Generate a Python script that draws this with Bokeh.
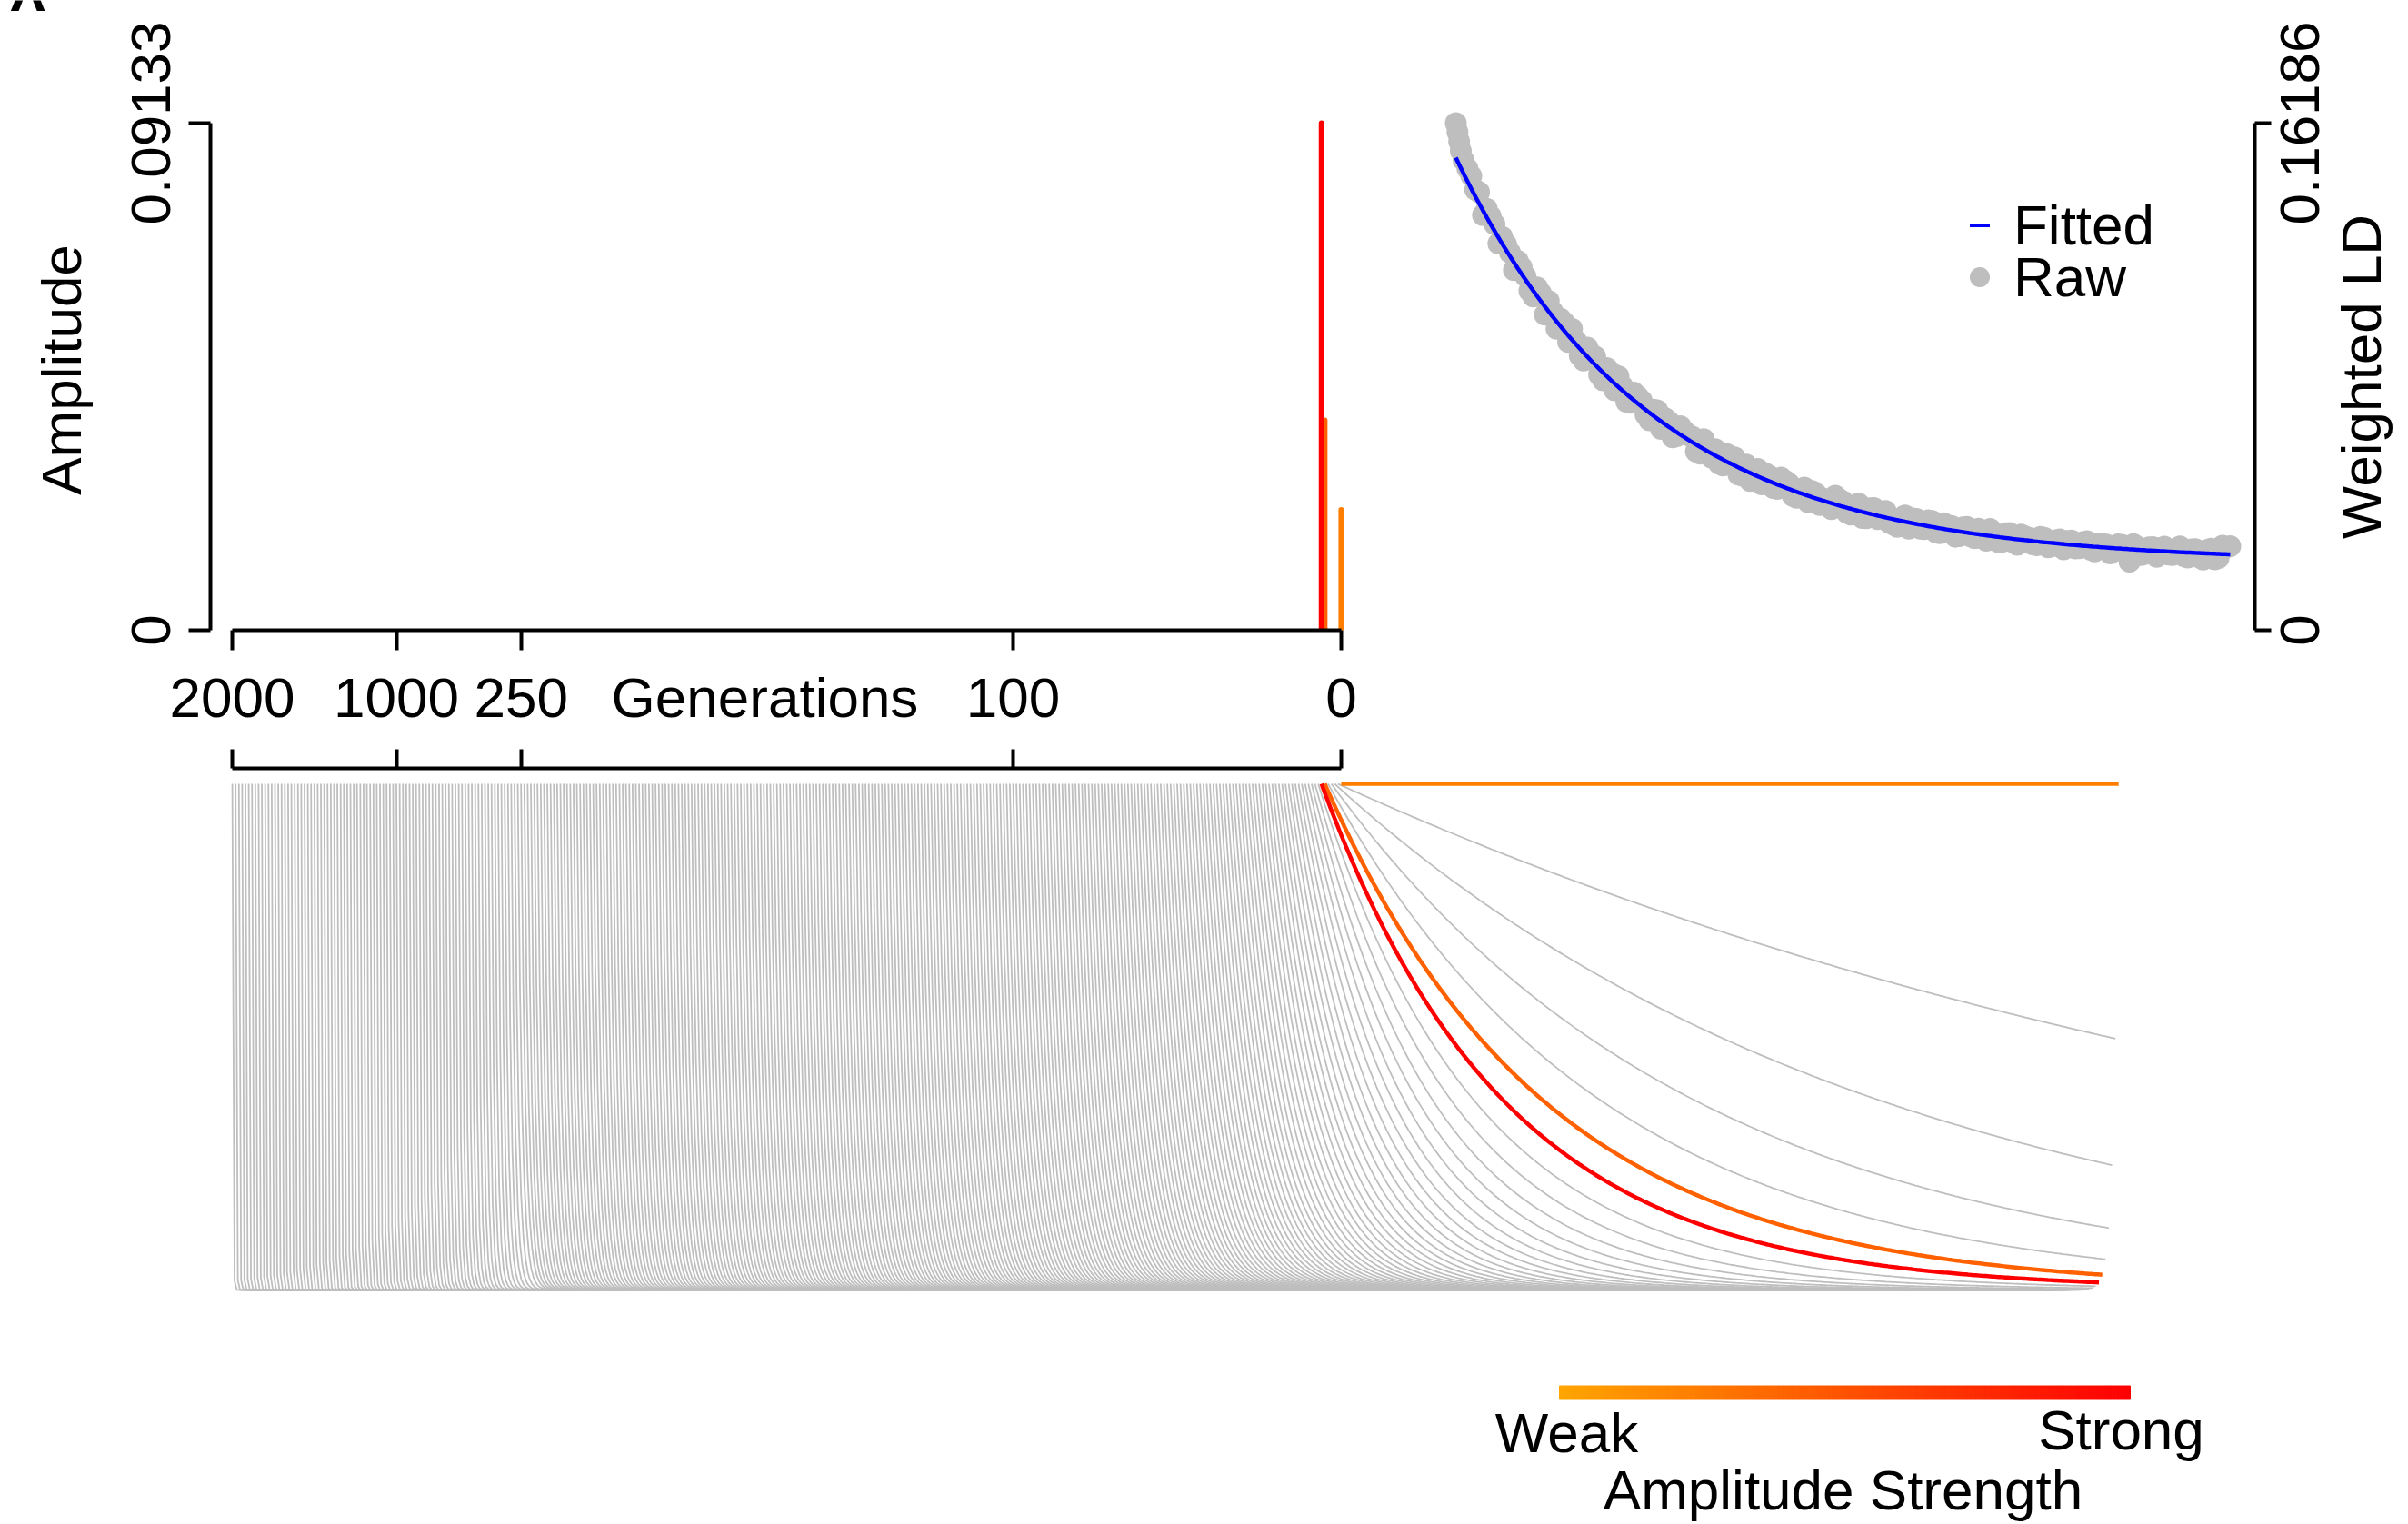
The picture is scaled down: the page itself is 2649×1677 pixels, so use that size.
import math
import numpy as np
from bokeh.plotting import figure
from bokeh.models import Range1d, FixedTicker, Legend, LegendItem, ColumnDataSource, LinearAxis
from bokeh.layouts import column, row
from bokeh.transform import linear_cmap
from bokeh.core.properties import value
from bokeh.embed import file_html
from bokeh.resources import INLINE

FONT = "Liberation Sans"
FS = "62px"

# ---------------- data ----------------
generations = list(range(0, 251)) + list(range(260, 2001, 20))
gen_ticks = [2000, 1000, 250, 100, 0]
gen_tick_labels = ["2000", "1000", "250", "100", "0"]
gen_axis_title = "Generations"

pulse_gens = [0, 5, 6]
pulse_amps = [0.0217, 0.0378, 0.09133]

amp_axis_max = 0.09133
ld_axis_max = 0.16186

ld_dist = ([0.0, 0.0015, 0.003, 0.0045] + [round(0.007 * k, 3) for k in range(1, 101)] +
           [0.0105, 0.0175, 0.0245, 0.0315, 0.0385, 0.0455, 0.0525, 0.0595, 0.0665, 0.0735,
            0.0805, 0.0875, 0.0945, 0.1015, 0.1085, 0.1155, 0.1225, 0.1295, 0.1365, 0.1435,
            0.1505, 0.1575, 0.1645, 0.1715, 0.1785, 0.1855, 0.1925, 0.1995, 0.2065] +
           [round(0.007 * k + 0.0035, 4) for k in range(30, 100)])
ld_raw = [
    0.16186, 0.15900, 0.15600, 0.15300,
    0.15000, 0.14500, 0.13980, 0.13450, 0.12960, 0.12550, 0.12050, 0.11790, 0.11300,
    0.10651, 0.10758, 0.10505, 0.09621, 0.09817, 0.09622, 0.08764, 0.09020, 0.08741, 0.07976,
    0.08246, 0.08110, 0.07297, 0.07582, 0.07335, 0.06699, 0.07018, 0.06773, 0.06156, 0.06511,
    0.06222, 0.05705, 0.06097, 0.05509, 0.05318, 0.05620, 0.05518, 0.04934, 0.04763, 0.05149,
    0.05006, 0.04539, 0.04870, 0.04686, 0.04229, 0.04553, 0.04443, 0.03995, 0.03993, 0.04294,
    0.04113, 0.03690, 0.04049, 0.03576, 0.03900, 0.03743, 0.03425, 0.03297, 0.03664, 0.03566,
    0.03243, 0.03511, 0.03122, 0.03419, 0.03332, 0.03004, 0.03298, 0.02936, 0.03181, 0.03233,
    0.02821, 0.03095, 0.02809, 0.03051, 0.02955, 0.02715, 0.02954, 0.02681, 0.02903, 0.02853,
    0.02610, 0.02814, 0.02570, 0.02758, 0.02737, 0.02524, 0.02726, 0.02186, 0.02666, 0.02435,
    0.02652, 0.02628, 0.02412, 0.02596, 0.02364, 0.02579, 0.02330, 0.02561, 0.02263, 0.02701,
    0.02680,
    0.14735, 0.14059, 0.13251, 0.13212, 0.12340, 0.12314, 0.11495, 0.11591, 0.10831, 0.10946,
    0.10074, 0.10165, 0.09949, 0.09205, 0.09252, 0.08610, 0.08810, 0.08159, 0.08368, 0.07657,
    0.07794, 0.07261, 0.07466, 0.06879, 0.07039, 0.06427, 0.06662, 0.06194, 0.06363,
    0.06187, 0.05638, 0.05835, 0.05778, 0.05255, 0.05398, 0.04966, 0.05289, 0.05066, 0.04658,
    0.04923, 0.04513, 0.04777, 0.04285, 0.04506, 0.04081, 0.04369, 0.04200, 0.03864, 0.04181,
    0.03751, 0.03964, 0.03579, 0.03897, 0.03548, 0.03810, 0.03375, 0.03582, 0.03241, 0.03552,
    0.03225, 0.03490, 0.03096, 0.03325, 0.02984, 0.03285, 0.02998, 0.03243, 0.02858, 0.03085,
    0.02824, 0.03103, 0.02724, 0.02996, 0.02739, 0.02983, 0.02648, 0.02874, 0.02581, 0.02868,
    0.02617, 0.02846, 0.02517, 0.02758, 0.02449, 0.02742, 0.02475, 0.02748, 0.02403, 0.02648,
    0.02343, 0.02670, 0.02397, 0.02674, 0.02321, 0.02589, 0.02258, 0.02607, 0.02306, 0.02646,
]
ld_max_dist = 0.7
legend_labels = ["Fitted", "Raw"]
ld_axis_title = "Weighted LD"
strength_labels = ["Weak", "Strong"]
strength_title = "Amplitude Strength"
panel_letter = "A"

# ---------------- layout constants (page pixels) ----------------
W, H = 2649, 1677
H_STRIP = 12
H_TOP = 810
W_TL = 1530
X_TR_END = 2500
X_POS0 = 1474.9      # page x of generation position 0
PX_POS = 3.609       # page px per generation position
D_X0 = 1601.0        # page x of distance 0 in LD panel
PX_D = 1217.1        # page px per Morgan
FAN_POS_PER_M = 237 / 0.7


def pos_at(px):
    return (X_POS0 - px) / PX_POS


def d_at(px):
    return (px - D_X0) / PX_D


pos = {g: i for i, g in enumerate(generations)}
gen_title_pos = pos_at(841)

palette = ["#%02x%02x%02x" % (255, int(round(165 * (1 - t))), 0) for t in np.linspace(0, 1, 256)]


def amp_cmap(field):
    return linear_cmap(field, palette, low=0, high=amp_axis_max)


def style_axis(ax, tick_len, standoff, show_labels=True):
    ax.axis_line_width = 4
    ax.axis_line_color = "black"
    ax.major_tick_line_width = 4
    ax.major_tick_line_color = "black"
    ax.major_tick_out = tick_len
    ax.major_tick_in = 0
    ax.minor_tick_line_color = None
    ax.major_label_text_font = FONT
    ax.major_label_standoff = standoff
    if show_labels:
        ax.major_label_text_font_size = FS
        ax.major_label_text_color = "black"
    else:
        ax.major_label_text_font_size = "1px"
        ax.major_label_text_color = None
    ax.axis_label_text_font = FONT
    ax.axis_label_text_font_size = FS
    ax.axis_label_text_font_style = "normal"
    ax.axis_label_text_color = "black"


def clean(p):
    p.grid.visible = False
    p.outline_line_color = None
    p.background_fill_color = "white"
    p.border_fill_color = "white"


# ---------------- top strip with (cut) panel letter ----------------
strip = figure(width=W, height=H_STRIP, x_range=Range1d(0, W), y_range=Range1d(0, H_STRIP),
               x_axis_location=None, y_axis_location=None,
               output_backend="svg", toolbar_location=None,
               min_border_left=0, min_border_right=0, min_border_top=0, min_border_bottom=0)
strip.frame_align = False
clean(strip)
strip.text(x=[-2], y=[2], text=[panel_letter], text_font=value(FONT), text_font_size="96px",
           text_align="left", text_baseline="alphabetic", text_color="black")

# ---------------- top-left: amplitude spikes ----------------
top_h = H_TOP - H_STRIP
tl = figure(width=W_TL, height=top_h,
            x_range=Range1d(pos_at(231), pos_at(1510)),
            y_range=Range1d(0, amp_axis_max * 573 / 558),
            output_backend="svg", toolbar_location=None,
            min_border_left=231, min_border_right=20, min_border_top=120 - H_STRIP,
            min_border_bottom=117)
clean(tl)
spike_src = ColumnDataSource(dict(x=[pos[g] for g in pulse_gens], amp=pulse_amps))
tl.segment(x0="x", y0=0, x1="x", y1="amp", source=spike_src,
           line_color=amp_cmap("amp"), line_width=6, line_cap="round")

xa = tl.xaxis[0]
style_axis(xa, 22, 0, show_labels=False)
xa.ticker = FixedTicker(ticks=[pos[g] for g in gen_ticks])
xa.bounds = (0, pos[2000])

xb = LinearAxis()
style_axis(xb, 0, 17)
xb.axis_line_color = None
xb.major_tick_line_color = None
xb.ticker = FixedTicker(ticks=[pos[g] for g in gen_ticks] + [gen_title_pos])
overrides = {pos[g]: lab for g, lab in zip(gen_ticks, gen_tick_labels)}
overrides[gen_title_pos] = gen_axis_title
xb.major_label_overrides = overrides
tl.add_layout(xb, "below")

ya = tl.yaxis[0]
style_axis(ya, 24, 21)
ya.ticker = FixedTicker(ticks=[0, amp_axis_max])
ya.major_label_overrides = {0: "0", amp_axis_max: "0.09133"}
ya.major_label_orientation = "parallel"
ya.bounds = (0, amp_axis_max)
ya.axis_label = "Amplitude"
ya.axis_label_standoff = 40

# ---------------- top-right: weighted LD ----------------
tr = figure(width=X_TR_END - W_TL, height=top_h,
            x_range=Range1d(d_at(1530), d_at(2480)),
            y_range=Range1d(0, ld_axis_max * 573 / 558),
            y_axis_location="right", x_axis_location=None,
            output_backend="svg", toolbar_location=None,
            min_border_left=0, min_border_right=X_TR_END - 2480, min_border_top=120 - H_STRIP,
            min_border_bottom=117)
clean(tr)
fan_d = np.linspace(0, ld_max_dist, 351)
fitted = np.zeros_like(fan_d)
for g, a in zip(pulse_gens, pulse_amps):
    fitted = fitted + a * np.exp(-g * fan_d)

tr.scatter(ld_dist, ld_raw, size=24, fill_color="#BEBEBE", line_color=None)
tr.line(fan_d, fitted, line_color="#0000FF", line_width=4.5)

ra = tr.yaxis[0]
style_axis(ra, 18, 0, show_labels=False)
ra.ticker = FixedTicker(ticks=[0, ld_axis_max])
ra.bounds = (0, ld_axis_max)

px_fit = tr.scatter([-1], [-1], marker="dash", size=20, line_color="#0000FF", line_width=4)
px_raw = tr.scatter([-1], [-1], marker="circle", size=20, fill_color="#BEBEBE", line_color=None)
for lab, rend, ly in zip(legend_labels, [px_fit, px_raw], [410, 353]):
    tr.add_layout(Legend(items=[LegendItem(label=lab, renderers=[rend])],
                         location=(620, ly), padding=0, margin=0, spacing=0,
                         glyph_width=55, glyph_height=55, label_standoff=10,
                         label_text_font=FONT, label_text_font_size=FS,
                         label_text_color="black",
                         border_line_color=None, background_fill_alpha=0))

# ---------------- right strip: LD axis labels ----------------
trr = figure(width=W - X_TR_END, height=top_h,
             x_range=Range1d(X_TR_END, W),
             y_range=Range1d(-(H_TOP - 693) / 558 * ld_axis_max, (693 - H_STRIP) / 558 * ld_axis_max),
             x_axis_location=None, y_axis_location=None,
             output_backend="svg", toolbar_location=None,
             min_border_left=0, min_border_right=0, min_border_top=0, min_border_bottom=0)
trr.frame_align = False
clean(trr)
trr.text(x=[2529, 2529, 2597], y=[0, ld_axis_max, ld_axis_max / 2],
         text=["0", "0.16186", ld_axis_title], angle=math.pi / 2,
         text_font=value(FONT), text_font_size=FS, text_align="center",
         text_baseline="middle", text_color="black")

# ---------------- bottom: decay fan ----------------
fan = figure(width=W, height=H - H_TOP,
             x_range=Range1d(pos_at(231), pos_at(2499)),
             y_range=Range1d(-(1677 - 1419) / 557, 1 + 17 / 557),
             x_axis_location="above", y_axis_location=None,
             output_backend="svg", toolbar_location=None,
             min_border_left=231, min_border_right=150, min_border_top=35, min_border_bottom=0)
clean(fan)

gray_xs, gray_ys = [], []
for g in generations:
    if g in pulse_gens:
        continue
    gray_xs.append(pos[g] - fan_d * FAN_POS_PER_M)
    gray_ys.append(np.exp(-g * fan_d))
fan.multi_line(gray_xs, gray_ys, line_color="#BEBEBE", line_width=1.8)

col_src = ColumnDataSource(dict(
    xs=[pos[g] - fan_d * FAN_POS_PER_M for g in pulse_gens],
    ys=[np.exp(-g * fan_d) for g in pulse_gens],
    amp=pulse_amps))
fan.multi_line("xs", "ys", source=col_src, line_color=amp_cmap("amp"), line_width=4.5)

fa = fan.xaxis[0]
style_axis(fa, 21, 0, show_labels=False)
fa.ticker = FixedTicker(ticks=[pos[g] for g in gen_ticks])
fa.bounds = (0, pos[2000])

# colour scale bar
cb_v = np.linspace(0, amp_axis_max, 129)
cb_px = 1715 + cb_v / amp_axis_max * (2343 - 1715)
cb_src = ColumnDataSource(dict(
    left=[pos_at(x) for x in cb_px[:-1]], right=[pos_at(x) for x in cb_px[1:]],
    v=list((cb_v[:-1] + cb_v[1:]) / 2)))


def yb(py):
    return (1419 - py) / 557


fan.quad(left="left", right="right", top=yb(1524.5), bottom=yb(1539.5), source=cb_src,
         fill_color=amp_cmap("v"), line_color=amp_cmap("v"), line_width=1)
fan.text(x=[pos_at(1723), pos_at(2333), pos_at(2027)],
         y=[yb(1576), yb(1573), yb(1639)],
         text=strength_labels + [strength_title],
         text_font=value(FONT), text_font_size=FS, text_align="center",
         text_baseline="middle", text_color="black")

layout = column(strip, row(tl, tr, trr), fan)
open("out.html", "w").write(file_html(layout, INLINE))
